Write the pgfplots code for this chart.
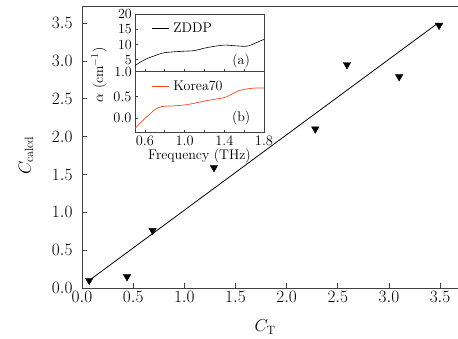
\documentclass[border=0pt]{standalone}
\usepackage{pgfplots}
\pgfplotsset{compat=1.18}
\definecolor{kred}{RGB}{250,70,30}
\definecolor{axgray}{gray}{0.25}
\begin{document}
\begin{tikzpicture}
\begin{axis}[
  name=main,
  at={(0,0)}, anchor=south west,
  scale only axis,
  width=376pt, height=282pt,
  xmin=0, xmax=3.675, ymin=0, ymax=3.725,
  axis x line*=box, axis y line*=left,
  xtick pos=bottom, ytick pos=left,
  tick align=inside,
  xtick={0,0.5,...,3.5}, ytick={0,0.5,...,3.5},
  major tick length=5pt,
  axis line style={axgray, line width=0.8pt},
  every tick/.style={axgray, line width=0.7pt},
  ticklabel style={font=\fontsize{16}{18}\selectfont},
  xticklabel style={/pgf/number format/.cd, fixed, fixed zerofill, precision=1},
  yticklabel style={xshift=-6pt, /pgf/number format/.cd, fixed, fixed zerofill, precision=1},
  xlabel={$C_{\mathrm{T}}$}, ylabel={$C_{\mathrm{calcd}}$},
  label style={font=\fontsize{17}{19}\selectfont},
  xlabel style={at={(axis description cs:0.487,0)}, anchor=center, yshift=-39pt},
  ylabel style={at={(axis description cs:-0.149,0.47)}, anchor=center},
  clip=false,
]
\addplot[black, line width=0.8pt] coordinates {(0.05,0.08) (3.48,3.50)};
\addplot[only marks, mark=triangle*, mark size=4.3pt, mark options={rotate=180, fill=black, draw=black}] coordinates {
(0.07,0.10) (0.44,0.15) (0.69,0.76) (1.29,1.59) (2.28,2.10) (2.59,2.95) (3.10,2.79) (3.49,3.47)};
\end{axis}
\begin{axis}[
  name=pa,
  at={(53pt,273.7pt)}, anchor=north west,
  scale only axis, width=129pt, height=57.4pt,
  xmin=0.5, xmax=1.8, ymin=1, ymax=20,
  xtick={0.6,1.0,1.4,1.8}, minor xtick={0.8,1.2,1.6},
  xticklabels={},
  ytick={1,5,10,15,20}, yticklabels={1.0,5,10,15,20},
  xtick pos=bottom, ytick pos=left, tick align=inside,
  major tick length=3pt, minor tick length=3pt,
  axis line style={axgray, line width=0.7pt},
  every tick/.style={axgray, line width=0.6pt},
  ticklabel style={font=\fontsize{14}{16}\selectfont},
  yticklabel style={inner ysep=0.5pt, inner xsep=3pt},
  legend style={draw=none, fill=none, at={(0.12,0.9)}, anchor=north west, font=\fontsize{14}{16}\selectfont, inner sep=1pt, nodes={inner xsep=4pt}},
  legend cell align=left,
]
\addplot[black, line width=0.6pt, smooth] coordinates {
(0.5,3.0) (0.55,4.1) (0.6,5.0) (0.65,5.7) (0.7,6.3) (0.75,6.9) (0.8,7.3) (0.9,7.6) (1.0,7.8) (1.1,8.0) (1.2,8.8) (1.3,9.4) (1.4,9.8) (1.5,9.6) (1.6,9.4) (1.65,9.6) (1.7,10.3) (1.75,11.0) (1.8,11.7)};
\addlegendentry{ZDDP}
\node[font=\fontsize{14}{16}\selectfont] at (axis cs:1.57,4.6) {(a)};
\end{axis}
\begin{axis}[
  name=pb,
  at={(53pt,216.3pt)}, anchor=north west,
  scale only axis, width=129pt, height=61pt,
  xmin=0.5, xmax=1.8, ymin=-0.333, ymax=1.08,
  xtick={0.6,1.0,1.4,1.8}, minor xtick={0.8,1.2,1.6},
  xticklabel style={/pgf/number format/.cd, fixed, fixed zerofill, precision=1},
  ytick={0,0.5},
  yticklabel style={/pgf/number format/.cd, fixed, fixed zerofill, precision=1},
  xtick pos=bottom, ytick pos=left, tick align=inside,
  major tick length=3pt, minor tick length=3pt,
  axis line style={axgray, line width=0.7pt},
  every tick/.style={axgray, line width=0.6pt},
  ticklabel style={font=\fontsize{14}{16}\selectfont},
  xlabel={Frequency (THz)},
  xlabel style={font=\fontsize{14}{16}\selectfont, yshift=3pt},
  legend style={draw=none, fill=none, at={(0.12,0.9)}, anchor=north west, font=\fontsize{14}{16}\selectfont, inner sep=1pt, nodes={inner xsep=4pt}},
  legend cell align=left,
]
\addplot[kred, line width=0.7pt, smooth] coordinates {
(0.5,-0.23) (0.55,-0.12) (0.6,0.0) (0.65,0.1) (0.7,0.2) (0.75,0.26) (0.8,0.28) (0.9,0.29) (1.0,0.31) (1.1,0.35) (1.2,0.40) (1.3,0.44) (1.4,0.48) (1.45,0.53) (1.5,0.59) (1.55,0.64) (1.6,0.67) (1.7,0.70) (1.8,0.70)};
\addlegendentry{Korea70}
\node[font=\fontsize{14}{16}\selectfont] at (axis cs:1.57,0.0) {(b)};
\end{axis}
\node[rotate=90, font=\fontsize{14}{16}\selectfont] at (17pt,213pt) {$\alpha$ (cm$^{-1}$)};
\pgfresetboundingbox
\path[use as bounding box] (-82pt,-50pt) rectangle (376pt,288pt);
\end{tikzpicture}
\end{document}
